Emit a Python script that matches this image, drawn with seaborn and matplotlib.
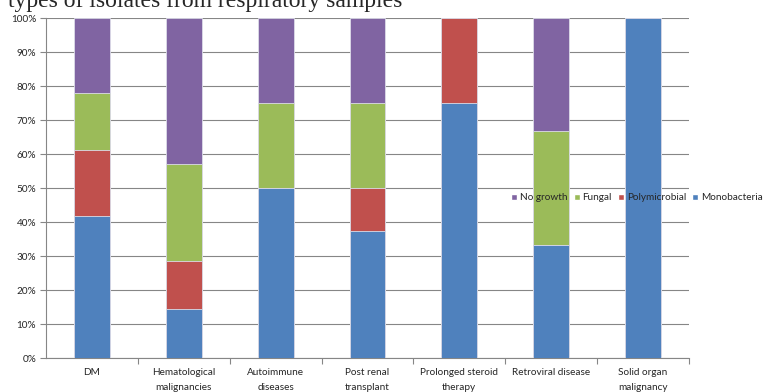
import numpy as np
import pandas as pd
import seaborn as sns
import matplotlib.pyplot as plt
from matplotlib.patches import Patch
from matplotlib.ticker import PercentFormatter

categories = ["DM", "Hematological\nmalignancies", "Autoimmune\ndiseases",
              "Post renal\ntransplant", "Prolonged steroid\ntherapy",
              "Retroviral disease", "Solid organ\nmalignancy"]
monobacteria = [41.7, 14.3, 50.0, 37.5, 75.0, 33.3, 100.0]
polymicrobial = [19.4, 14.3, 0.0, 12.5, 25.0, 0.0, 0.0]
fungal = [16.7, 28.5, 25.0, 25.0, 0.0, 33.4, 0.0]
no_growth = [22.2, 42.9, 25.0, 25.0, 0.0, 33.3, 0.0]
series_names = ["Monobacteria", "Polymicrobial", "Fungal", "No growth"]

colors = {"Monobacteria": "#4F81BD", "Polymicrobial": "#C0504D",
          "Fungal": "#9BBB59", "No growth": "#8064A2"}

sns.set_style("white")
plt.rcParams['font.family'] = ['Lato', 'DejaVu Sans']

df = pd.DataFrame({"category": categories, "Monobacteria": monobacteria,
                   "Polymicrobial": polymicrobial, "Fungal": fungal,
                   "No growth": no_growth})

fig = plt.figure(figsize=(7.69, 3.92), dpi=100)
ax = fig.add_axes([46 / 769, 1 - 358 / 392, (689 - 46) / 769, 340 / 392])

# stacked bars: draw the cumulative totals from the top series down
cum = df[series_names].cumsum(axis=1)
for name in reversed(series_names):
    sns.barplot(x=df["category"], y=cum[name], color=colors[name], width=0.39,
                saturation=1, edgecolor="#dcdce8", linewidth=0.6, ax=ax, zorder=3)

ax.set_ylim(0, 100)
ax.set_xlim(-0.5, len(categories) - 0.5)
ax.set_yticks(np.arange(0, 101, 10))
ax.yaxis.set_major_formatter(PercentFormatter(decimals=0))
ax.set_xticks(np.arange(len(categories)))
ax.set_xticklabels(categories)
ax.set_xticks(np.arange(len(categories)) + 0.5, minor=True)
ax.set_xlabel("")
ax.set_ylabel("")
ax.grid(axis="y", color="#868686", linewidth=0.8, zorder=0)
ax.set_axisbelow(True)
for s in ["top", "right"]:
    ax.spines[s].set_visible(False)
for s in ["left", "bottom"]:
    ax.spines[s].set_color("#868686")
    ax.spines[s].set_linewidth(0.8)
ax.tick_params(axis="y", which="major", left=True, length=4, width=0.8,
               color="#868686", labelsize=7.2, pad=3)
ax.tick_params(axis="x", which="major", bottom=False, labelsize=7.2, pad=4)
ax.tick_params(axis="x", which="minor", bottom=True, length=4, width=0.8,
               color="#868686")
for lab in ax.get_xticklabels():
    lab.set_linespacing(1.75)

handles = [Patch(facecolor=colors[n], label=n) for n in reversed(series_names)]
fig.legend(handles=handles, loc="center left", bbox_to_anchor=(511 / 769, 1 - 198 / 392),
           ncol=4, frameon=False, fontsize=7.2, handlelength=0.6, handleheight=0.6,
           handletextpad=0.3, columnspacing=0.6, borderpad=0, borderaxespad=0)

fig.text(8 / 769, 1 - 7 / 392, "types of isolates from respiratory samples",
         family="Liberation Serif", fontsize=17, va="baseline", ha="left")

fig.savefig("out.png", dpi=100)
